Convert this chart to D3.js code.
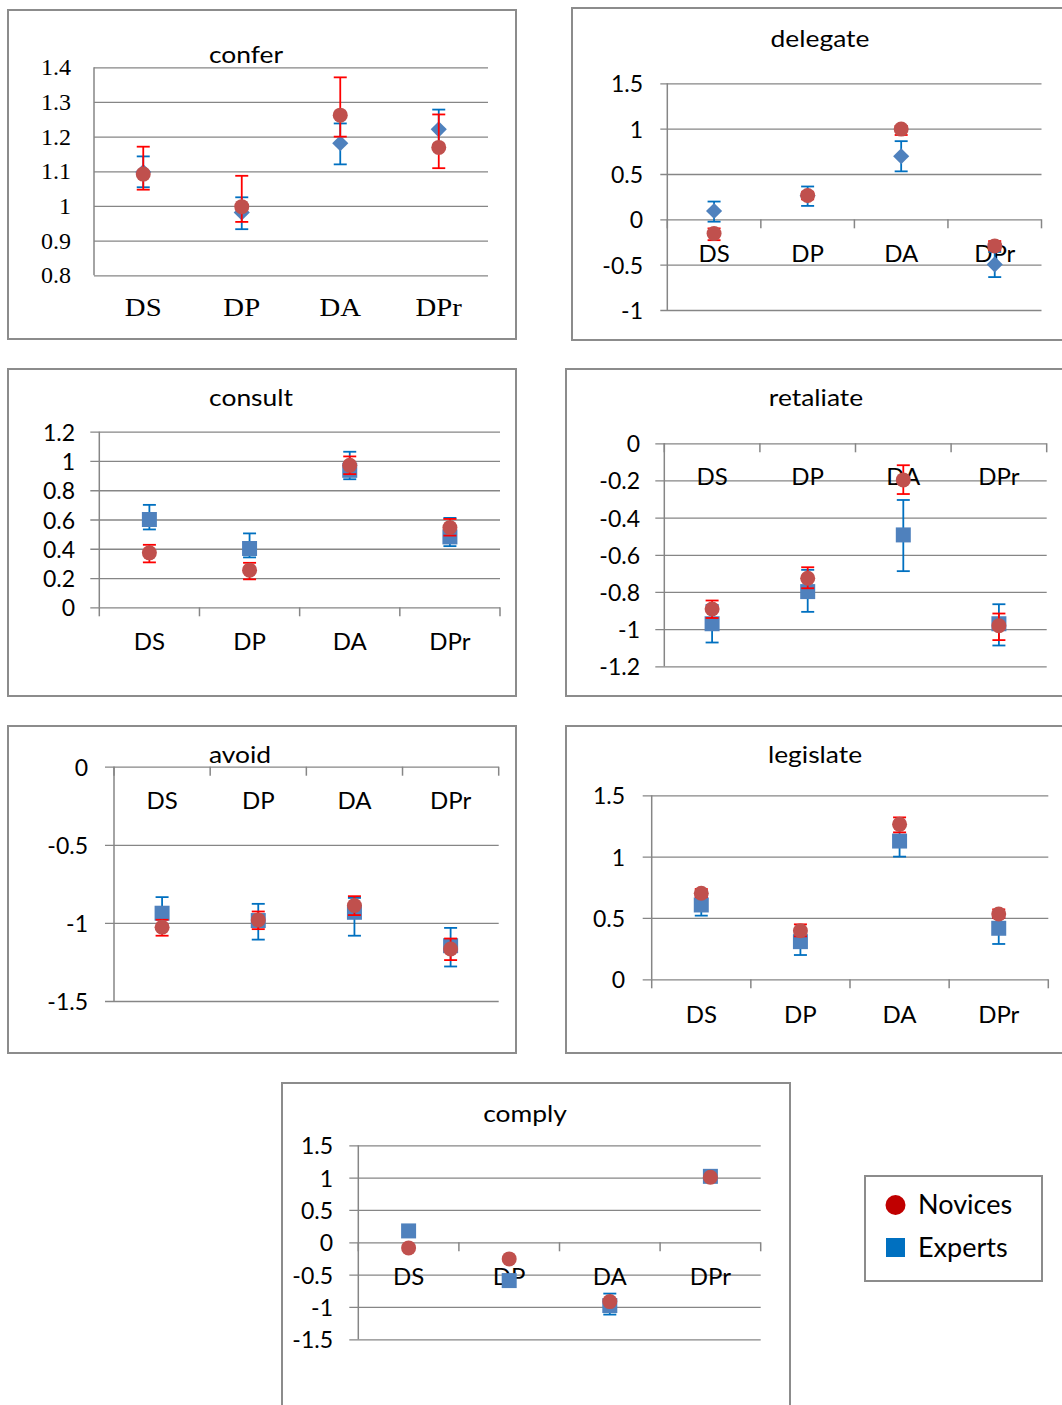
<!DOCTYPE html>
<html><head><meta charset="utf-8">
<script src="https://cdn.jsdelivr.net/npm/d3@7"></script>
<style>body{margin:0;background:#fff}svg{display:block}</style>
</head><body>
<svg id="c" width="1062" height="1405"></svg>
<script>
const categories = ["DS","DP","DA","DPr"];

// confer
const conferNovices   = [1.092, 0.998, 1.262, 1.169];
const conferNovicesHi = [1.171, 1.087, 1.371, 1.264];
const conferNovicesLo = [1.047, 0.954, 1.200, 1.109];
const conferExperts   = [1.098, 0.981, 1.181, 1.221];
const conferExpertsHi = [1.143, 1.025, 1.238, 1.278];
const conferExpertsLo = [1.054, 0.933, 1.120, 1.165];
const conferTicks = ["0.8","0.9","1","1.1","1.2","1.3","1.4"];

// delegate
const delegateNovices   = [-0.156, 0.262, 0.995, -0.293];
const delegateNovicesHi = [-0.10, 0.30, 1.03, -0.24];
const delegateNovicesLo = [-0.23, 0.22, 0.93, -0.34];
const delegateExperts   = [0.092, 0.26, 0.696, -0.497];
const delegateExpertsHi = [0.196, 0.362, 0.862, -0.36];
const delegateExpertsLo = [-0.026, 0.148, 0.529, -0.637];
const delegateTicks = ["-1","-0.5","0","0.5","1","1.5"];

// consult
const consultNovices   = [0.372, 0.254, 0.970, 0.545];
const consultNovicesHi = [0.427, 0.304, 1.031, 0.604];
const consultNovicesLo = [0.307, 0.191, 0.91, 0.49];
const consultExperts   = [0.600, 0.402, 0.936, 0.481];
const consultExpertsHi = [0.700, 0.505, 1.063, 0.611];
const consultExpertsLo = [0.532, 0.341, 0.875, 0.418];
const consultTicks = ["0","0.2","0.4","0.6","0.8","1","1.2"];

// retaliate
const retaliateNovices   = [-0.892, -0.726, -0.197, -0.982];
const retaliateNovicesHi = [-0.846, -0.667, -0.118, -0.916];
const retaliateNovicesLo = [-0.94, -0.78, -0.273, -1.059];
const retaliateExperts   = [-0.971, -0.798, -0.493, -0.971];
const retaliateExpertsHi = [-0.87, -0.681, -0.305, -0.866];
const retaliateExpertsLo = [-1.072, -0.907, -0.688, -1.088];
const retaliateTicks = ["-1.2","-1","-0.8","-0.6","-0.4","-0.2","0"];

// avoid
const avoidNovices   = [-1.028, -0.981, -0.889, -1.167];
const avoidNovicesHi = [-0.98, -0.927, -0.829, -1.10];
const avoidNovicesLo = [-1.082, -1.04, -0.95, -1.238];
const avoidExperts   = [-0.938, -0.985, -0.932, -1.146];
const avoidExpertsHi = [-0.835, -0.878, -0.84, -1.032];
const avoidExpertsLo = [-1.04, -1.107, -1.082, -1.279];
const avoidTicks = ["-1.5","-1","-0.5","0"];

// legislate
const legislateNovices   = [0.701, 0.396, 1.263, 0.532];
const legislateNovicesHi = [0.736, 0.448, 1.32, 0.57];
const legislateNovicesLo = [0.67, 0.35, 1.198, 0.50];
const legislateExperts   = [0.606, 0.307, 1.127, 0.416];
const legislateExpertsHi = [0.68, 0.38, 1.25, 0.50];
const legislateExpertsLo = [0.519, 0.198, 1.0, 0.288];
const legislateTicks = ["0","0.5","1","1.5"];

// comply
const complyNovices   = [-0.087, -0.257, -0.917, 1.005];
const complyNovicesHi = [-0.087, -0.257, -0.90, 1.005];
const complyNovicesLo = [-0.087, -0.257, -0.94, 1.005];
const complyExperts   = [0.176, -0.592, -0.978, 1.02];
const complyExpertsHi = [0.176, -0.592, -0.793, 1.02];
const complyExpertsLo = [0.176, -0.592, -1.118, 1.02];
const complyTicks = ["-1.5","-1","-0.5","0","0.5","1","1.5"];

const legendLabels = ["Novices","Experts"];

const SANS = "Lato, 'Open Sans', sans-serif";
const SERIF = "'Liberation Serif', 'Times New Roman', serif";
const GRID = "#868686";
const C_NOV = "#C0504D", C_EXP = "#4F81BD", E_NOV = "#FF0000", E_EXP = "#0070C0";

const svg = d3.select("#c");

function txt(g, x, y, s, o) {
  const gg = g.append("g").attr("transform", `translate(${x},${y}) scale(${o.sx||1},1)`);
  gg.append("text").attr("x",0).attr("y",0)
    .attr("text-anchor", o.anchor||"middle")
    .attr("dominant-baseline", o.mid ? "central" : "auto")
    .style("font-family", o.family||SANS).style("font-size", o.size+"px")
    .attr("fill","#000").text(s);
}

const panels = [
 {name:"confer", frame:[8,10,516,339], x0:94, x1:488, yTop:67.3, yBot:275.3, ticks:conferTicks,
  title:[246,63], xlabY:316, ylabX:71, serif:true, yTickOut:0, catTicks:false, shape:"diamond",
  nov:[conferNovices,conferNovicesLo,conferNovicesHi], exp:[conferExperts,conferExpertsLo,conferExpertsHi]},
 {name:"delegate", frame:[572,8,1066,340], x0:667.3, x1:1041.5, yTop:83.3, yBot:310, ticks:delegateTicks,
  title:[820,47], xlabY:262, ylabX:643, yTickOut:7, catTicks:true, shape:"diamond",
  nov:[delegateNovices,delegateNovicesLo,delegateNovicesHi], exp:[delegateExperts,delegateExpertsLo,delegateExpertsHi]},
 {name:"consult", frame:[8,369,516,696], x0:99.3, x1:500, yTop:431.7, yBot:607.3, ticks:consultTicks,
  title:[251,406], xlabY:650, ylabX:75, yTickOut:9, catTicks:true, shape:"square",
  nov:[consultNovices,consultNovicesLo,consultNovicesHi], exp:[consultExperts,consultExpertsLo,consultExpertsHi]},
 {name:"retaliate", frame:[566,369,1066,696], x0:664.3, x1:1046.7, yTop:443.3, yBot:666.3, ticks:retaliateTicks,
  title:[816,406], xlabY:485, ylabX:640, yTickOut:9, catTicks:true, shape:"square",
  nov:[retaliateNovices,retaliateNovicesLo,retaliateNovicesHi], exp:[retaliateExperts,retaliateExpertsLo,retaliateExpertsHi]},
 {name:"avoid", frame:[8,726,516,1053], x0:114, x1:498.7, yTop:766.7, yBot:1001, ticks:avoidTicks,
  title:[240,763], xlabY:809, ylabX:88, yTickOut:9, catTicks:true, shape:"square",
  nov:[avoidNovices,avoidNovicesLo,avoidNovicesHi], exp:[avoidExperts,avoidExpertsLo,avoidExpertsHi]},
 {name:"legislate", frame:[566,726,1066,1053], x0:651.7, x1:1048.3, yTop:795.3, yBot:979.3, ticks:legislateTicks,
  title:[815,763], xlabY:1023, ylabX:625, yTickOut:9, catTicks:true, shape:"square",
  nov:[legislateNovices,legislateNovicesLo,legislateNovicesHi], exp:[legislateExperts,legislateExpertsLo,legislateExpertsHi]},
 {name:"comply", frame:[282,1083,790,1410], x0:358.3, x1:760.7, yTop:1145.3, yBot:1339.3, ticks:complyTicks,
  title:[525,1122], xlabY:1285, ylabX:333, yTickOut:9, catTicks:true, shape:"square",
  nov:[complyNovices,complyNovicesLo,complyNovicesHi], exp:[complyExperts,complyExpertsLo,complyExpertsHi]}
];

panels.forEach(p => {
  const g = svg.append("g");
  const [fx0,fy0,fx1,fy1] = p.frame;
  g.append("rect").attr("x",fx0).attr("y",fy0).attr("width",fx1-fx0).attr("height",fy1-fy0)
    .attr("fill","#fff").attr("stroke","#8c8c8c").attr("stroke-width",2);

  const tv = p.ticks.map(Number);
  const y = d3.scaleLinear().domain([d3.min(tv), d3.max(tv)]).range([p.yBot, p.yTop]);
  const x = d3.scaleBand().domain(categories).range([p.x0, p.x1]);
  const xc = c => x(c) + x.bandwidth()/2;

  const yAxis = d3.axisLeft(y).tickValues(tv).tickSize(-(p.x1-p.x0)).tickFormat("");
  const ya = g.append("g").attr("transform",`translate(${p.x0},0)`).call(yAxis);
  ya.select(".domain").remove();
  ya.selectAll(".tick line").attr("stroke",GRID).attr("stroke-width",1.3)
    .attr("x1", -p.yTickOut);
  g.append("line").attr("x1",p.x0).attr("x2",p.x0).attr("y1",p.yTop).attr("y2",p.yBot)
    .attr("stroke",GRID).attr("stroke-width",1.5);

  p.ticks.forEach((t,i) => {
    txt(g, p.ylabX, y(tv[i]), t, {anchor:"end", mid:true, size: p.serif?24:23, family: p.serif?SERIF:SANS});
  });

  if (p.catTicks) {
    const y0 = y(Math.max(d3.min(tv), Math.min(0, d3.max(tv))));
    const bounds = categories.map(c => x(c)).concat([p.x1]);
    g.selectAll(null).data(bounds).join("line")
      .attr("x1",d=>d).attr("x2",d=>d).attr("y1",y0).attr("y2",y0+9)
      .attr("stroke",GRID).attr("stroke-width",1.5);
  }

  categories.forEach(c => {
    txt(g, xc(c), p.xlabY, c, {size: p.serif?25:24, family: p.serif?SERIF:SANS, sx: p.serif?1.15:1});
  });

  txt(g, p.title[0], p.title[1], p.name, {size:24, sx:1.1});

  const cap = 6.5;
  function errs(lo, hi, color, w) {
    categories.forEach((c,i) => {
      if (lo[i] === hi[i]) return;
      const cx = xc(c);
      g.append("line").attr("x1",cx).attr("x2",cx).attr("y1",y(lo[i])).attr("y2",y(hi[i]))
        .attr("stroke",color).attr("stroke-width",w);
      [lo[i],hi[i]].forEach(v => g.append("line").attr("x1",cx-cap).attr("x2",cx+cap)
        .attr("y1",y(v)).attr("y2",y(v)).attr("stroke",color).attr("stroke-width",w));
    });
  }
  const sym = p.shape==="diamond" ? d3.symbol(d3.symbolSquare, 130) : d3.symbol(d3.symbolSquare, 225);
  errs(p.exp[1], p.exp[2], E_EXP, 1.8);
  categories.forEach((c,i) => {
    g.append("path").attr("d", sym())
      .attr("transform", `translate(${xc(c)},${y(p.exp[0][i])})` + (p.shape==="diamond"?" rotate(45)":""))
      .attr("fill", C_EXP);
  });
  errs(p.nov[1], p.nov[2], E_NOV, 1.8);
  categories.forEach((c,i) => {
    g.append("circle").attr("cx",xc(c)).attr("cy",y(p.nov[0][i])).attr("r",7.5).attr("fill",C_NOV);
  });
});

// legend
const lg = svg.append("g");
lg.append("rect").attr("x",865).attr("y",1176).attr("width",177).attr("height",105)
  .attr("fill","#fff").attr("stroke","#8c8c8c").attr("stroke-width",2);
lg.append("circle").attr("cx",895.5).attr("cy",1205).attr("r",10).attr("fill","#C00000");
lg.append("rect").attr("x",886).attr("y",1238).attr("width",19).attr("height",19).attr("fill","#0070C0");
txt(lg, 918, 1214, legendLabels[0], {anchor:"start", size:27});
txt(lg, 918, 1257, legendLabels[1], {anchor:"start", size:27});
</script>
</body></html>
